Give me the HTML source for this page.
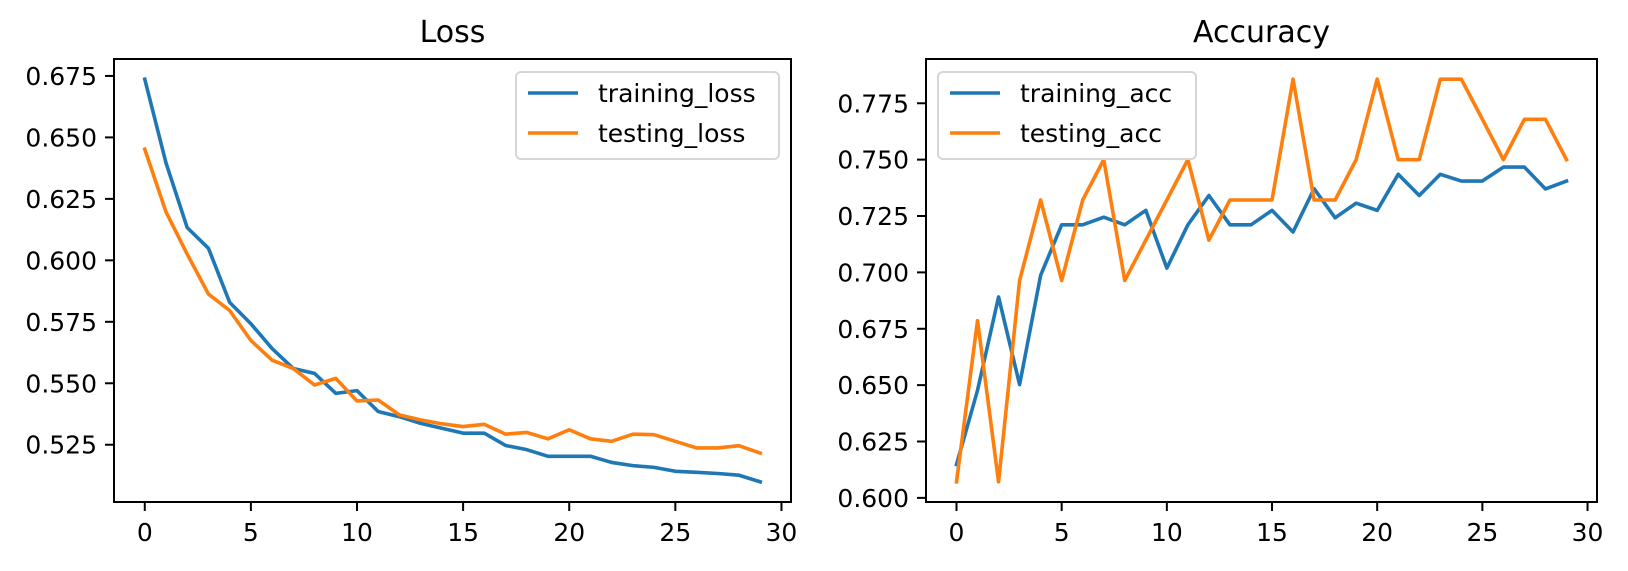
<!DOCTYPE html>
<html><head><meta charset="utf-8"><style>
html,body{margin:0;padding:0;background:#fff}
svg text{font-family:"DejaVu Sans","Liberation Sans",sans-serif;fill:#000}
</style></head><body>
<svg id="fig" width="1628" height="566" viewBox="0 0 1628 566" xmlns="http://www.w3.org/2000/svg">
<rect width="1628" height="566" fill="#fff"/>
</svg>
<script>
const epochs = Array.from({length:30},(_,i)=>i);
const trainLoss = [0.6737,0.6396,0.6133,0.6049,0.5829,0.5742,0.5641,0.5560,0.5540,0.5459,0.5470,0.5385,0.5364,0.5337,0.5317,0.5297,0.5297,0.5247,0.5230,0.5203,0.5203,0.5203,0.5178,0.5165,0.5158,0.5142,0.5138,0.5133,0.5126,0.5099];
const testLoss = [0.6452,0.6197,0.6025,0.5863,0.5796,0.5674,0.5594,0.5560,0.5493,0.5520,0.5428,0.5432,0.5371,0.5351,0.5335,0.5324,0.5333,0.5293,0.5300,0.5274,0.5311,0.5274,0.5264,0.5293,0.5291,0.5264,0.5237,0.5237,0.5246,0.5216];
const trainAcc = [0.6148,0.6477,0.6891,0.6502,0.6987,0.7211,0.7211,0.7245,0.7211,0.7275,0.7019,0.7211,0.7341,0.7211,0.7211,0.7275,0.7179,0.7371,0.7242,0.7307,0.7275,0.7435,0.7341,0.7435,0.7405,0.7405,0.7467,0.7467,0.7370,0.7405];
const testAcc = [0.6071,0.6786,0.6071,0.6964,0.7321,0.6964,0.7321,0.7500,0.6964,0.7143,0.7321,0.7500,0.7143,0.7321,0.7321,0.7321,0.7857,0.7321,0.7321,0.7500,0.7857,0.7500,0.7500,0.7857,0.7857,0.7679,0.7500,0.7679,0.7679,0.7500];
const xTicks = [0,5,10,15,20,25,30];
const lossTicks = [0.525,0.550,0.575,0.600,0.625,0.650,0.675];
const accTicks = [0.600,0.625,0.650,0.675,0.700,0.725,0.750,0.775];

const NS='http://www.w3.org/2000/svg';
const svg=document.getElementById('fig');
function mk(tag,attrs,parent){const e=document.createElementNS(NS,tag);for(const k in attrs)e.setAttribute(k,attrs[k]);(parent||svg).appendChild(e);return e;}

function panel(cfg){
  const g=mk('g',{});
  
  
  const {L,R,T,B}=cfg;
  const all=cfg.series.flatMap(s=>s.vals);
  const mn=Math.min(...all), mx=Math.max(...all), pad=(mx-mn)*0.05;
  const y0=mn-pad, y1=mx+pad;
  const xmn=-1.45, xmx=30.45;
  const sx=v=>L+(v-xmn)/(xmx-xmn)*(R-L);
  const sy=v=>B-(v-y0)/(y1-y0)*(B-T);
  // series
  cfg.series.forEach(s=>{
    const p=mk('polyline',{points:s.vals.map((v,i)=>sx(epochs[i]).toFixed(2)+','+sy(v).toFixed(2)).join(' '),fill:'none',stroke:s.color,'stroke-width':3.6,'stroke-linejoin':'round','stroke-linecap':'square'},g);
    
    
  });
  // spines
  const fr=mk('rect',{x:L,y:T,width:R-L,height:B-T,fill:'none',stroke:'#000','stroke-width':2},g);
  
  
  // x ticks
  xTicks.forEach(t=>{
    const x=sx(t);
    mk('line',{x1:x,x2:x,y1:B,y2:B+9,stroke:'#000','stroke-width':2},g);
    const tx=mk('text',{x:x,y:541,'font-size':25,'text-anchor':'middle'},g);
    tx.textContent=String(t);
    
    
  });
  cfg.ticks.forEach(t=>{
    const y=sy(t);
    mk('line',{x1:L-9,x2:L,y1:y,y2:y,stroke:'#000','stroke-width':2},g);
    const tx=mk('text',{x:L-17,y:y+9,'font-size':25,'text-anchor':'end'},g);
    tx.textContent=t.toFixed(3);
    
    
  });
  const ti=mk('text',{x:(L+R)/2,y:42,'font-size':30,'text-anchor':'middle'},g);
  ti.textContent=cfg.title;
  
  
  // legend
  const lg=mk('g',{},g);
  
  
  mk('rect',{x:cfg.legX,y:72,width:cfg.legW,height:87,rx:5,fill:'#fff','fill-opacity':0.8,stroke:'#d6d6d6','stroke-width':2},lg);
  cfg.series.forEach((s,i)=>{
    const y=93+i*40;
    const ln=mk('line',{x1:cfg.legX+12,x2:cfg.legX+62,y1:y,y2:y,stroke:s.color,'stroke-width':3.6},lg);
    
    
    const tx=mk('text',{x:cfg.legX+82,y:y+9,'font-size':25},lg);
    tx.textContent=s.id;
    
    
  });
}
panel({name:'loss-chart',title:'Loss',L:114,R:791,T:59,B:502,ticks:lossTicks,legX:516,legW:263,
  series:[{id:'training_loss',vals:trainLoss,color:'#1f77b4'},{id:'testing_loss',vals:testLoss,color:'#ff7f0e'}]});
panel({name:'accuracy-chart',title:'Accuracy',L:926,R:1597,T:59,B:502,ticks:accTicks,legX:938,legW:258,
  series:[{id:'training_acc',vals:trainAcc,color:'#1f77b4'},{id:'testing_acc',vals:testAcc,color:'#ff7f0e'}]});
</script>
</body></html>
